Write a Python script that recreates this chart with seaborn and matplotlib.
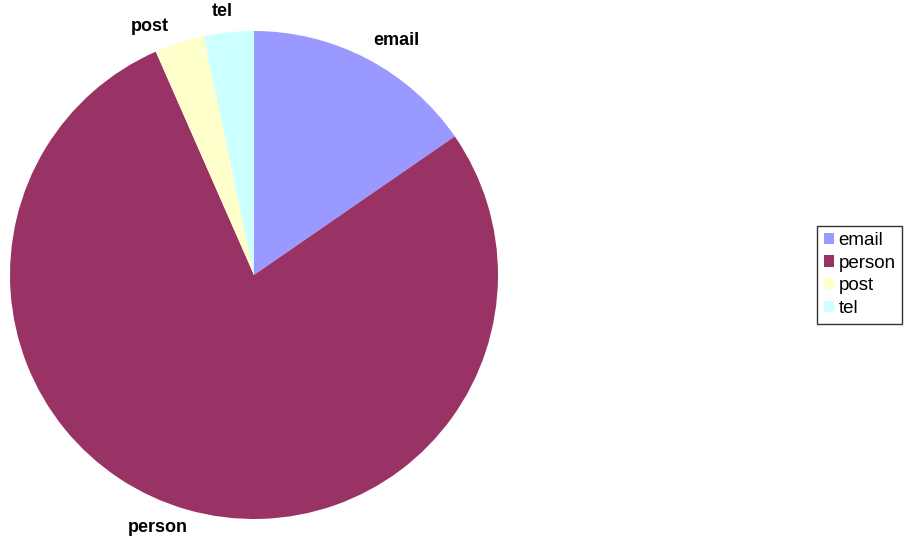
# Pie chart of contact channels (email / person / post / tel).

import matplotlib
matplotlib.use('Agg')
import matplotlib.pyplot as plt
from matplotlib.patches import Patch
import seaborn as sns

categories = ["email", "person", "post", "tel"]
counts = [14, 71, 3, 3]
colors = ["#9999FF", "#993366", "#FFFFCC", "#CCFFFF"]

# label anchor points (data units, pie radius = 1)
label_pos = [(0.582, 0.963), (-0.393, -1.033), (-0.426, 1.020), (-0.131, 1.078)]

sns.set_theme(style="white")
plt.rcParams['font.family'] = ['Liberation Sans', 'DejaVu Sans']
plt.rcParams['text.color'] = 'black'

W, H = 906, 542
fig = plt.figure(figsize=(W / 100, H / 100), dpi=100)
cx, cy, r = 254, 275, 244
ax = fig.add_axes([(cx - r) / W, (H - cy - r) / H, 2 * r / W, 2 * r / H])

wedges, _ = ax.pie(counts, colors=colors, startangle=90, counterclock=False,
                   radius=1, wedgeprops=dict(linewidth=0))
ax.set_xlim(-1, 1)
ax.set_ylim(-1, 1)
ax.set_aspect('equal')
ax.axis('off')

for name, (x, y) in zip(categories, label_pos):
    ax.text(x, y, name, ha="center", va="center", fontsize=13,
            fontweight="bold", color="black", clip_on=False)

handles = [Patch(facecolor=c, edgecolor='none', label=n) for n, c in zip(categories, colors)]
leg = fig.legend(handles=handles, loc="center left",
                 bbox_to_anchor=(817 / W, (H - 274.5) / H),
                 fontsize=13.5, frameon=True, fancybox=False, shadow=False,
                 handlelength=0.55, handleheight=0.55, handletextpad=0.25,
                 labelspacing=0.3, borderpad=0.35, borderaxespad=0)
leg.get_frame().set_edgecolor("black")
leg.get_frame().set_linewidth(1.0)
for t in leg.get_texts():
    t.set_color("black")

fig.savefig("out.png", dpi=100, facecolor="white")
